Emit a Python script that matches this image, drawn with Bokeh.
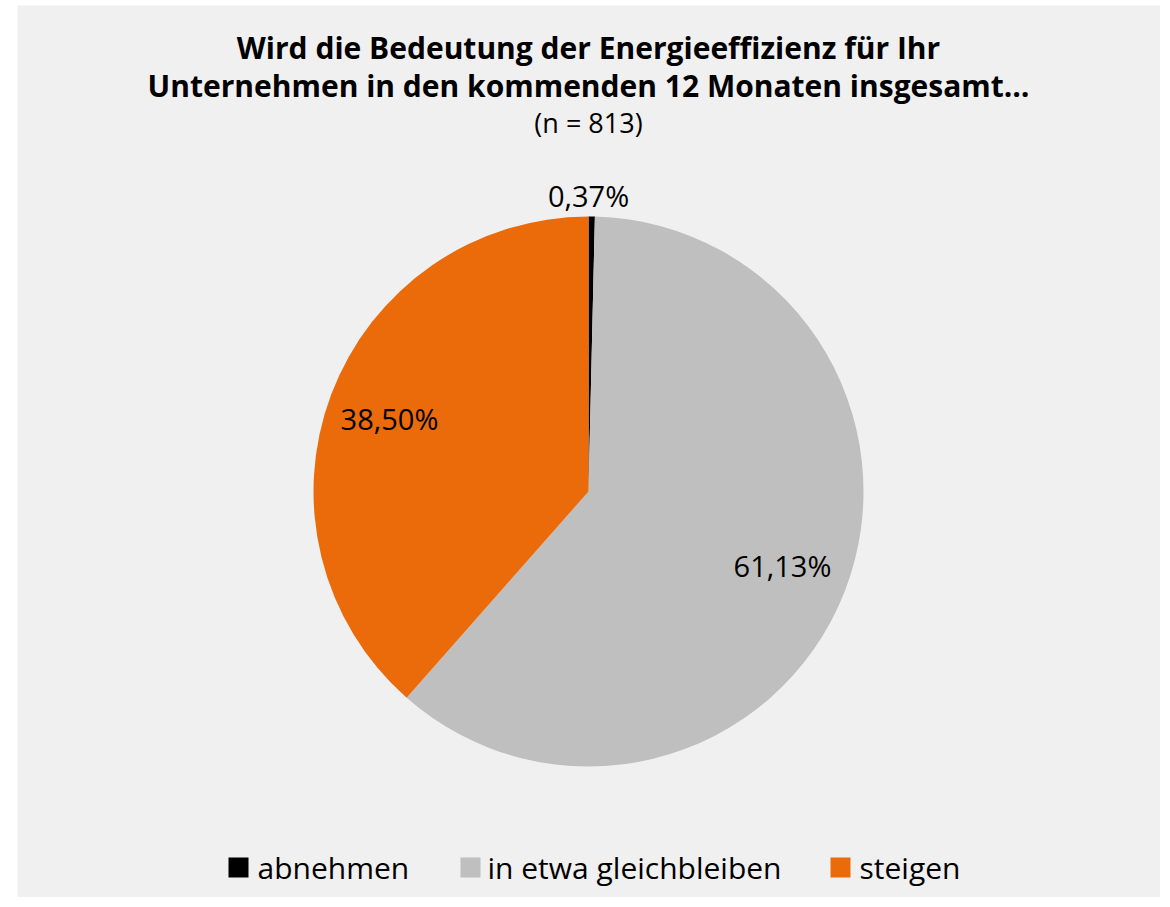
import math
from bokeh.plotting import figure
from bokeh.models import Range1d, ColumnDataSource
from bokeh.core.properties import value
from bokeh.embed import file_html
from bokeh.resources import INLINE

# ---- data ----
categories = ["abnehmen", "in etwa gleichbleiben", "steigen"]
shares = [0.37, 61.13, 38.50]
labels = ["0,37%", "61,13%", "38,50%"]
colors = ["#000000", "#BFBFBF", "#EB6A0A"]
title_lines = ["Wird die Bedeutung der Energieeffizienz für Ihr",
               "Unternehmen in den kommenden 12 Monaten insgesamt…"]
subtitle = "(n = 813)"

FONT = "Open Sans"

# coordinate system: x = page x, y = 897 - page y
p = figure(width=1160, height=897, output_backend="svg", toolbar_location=None,
           x_range=Range1d(17, 1160), y_range=Range1d(0, 892),
           min_border_left=17, min_border_right=0, min_border_top=5, min_border_bottom=0)
p.border_fill_color = "white"
p.background_fill_color = "#F0F0F0"
p.outline_line_color = None
p.axis.visible = False
p.grid.visible = False

def Y(py):
    return 897 - py

# pie
cx, cy, r = 588, Y(491), 275
total = sum(shares)
starts, ends = [], []
cum = 0.0
label_pos = [(588, Y(195)), (782, Y(565)), (389, Y(418))]
for s in shares:
    a0 = math.pi / 2 - cum / total * 2 * math.pi
    cum += s
    a1 = math.pi / 2 - cum / total * 2 * math.pi
    starts.append(a0)
    ends.append(a1)
src = ColumnDataSource(dict(start=starts, end=ends, color=colors, cat=categories))
p.wedge(x=cx, y=cy, radius=r, start_angle="start", end_angle="end", direction="clock",
        fill_color="color", line_color=None, source=src)

p.text(x=[q[0] for q in label_pos], y=[q[1] for q in label_pos], text=labels,
       text_font=value(FONT), text_font_size="29px", text_color="black",
       text_align="center", text_baseline="middle")

# title
p.text(x=[588, 588], y=[Y(47), Y(85)], text=title_lines, text_font=value(FONT),
       text_font_size="30px", text_font_style="bold", text_color="black",
       text_align="center", text_baseline="middle")
p.text(x=[588], y=[Y(122)], text=[subtitle], text_font=value(FONT),
       text_font_size="27px", text_color="black",
       text_align="center", text_baseline="middle")

# legend
sq_x = [238, 470, 840]
tx = [257, 487, 859]
ly = Y(867)
p.rect(x=sq_x, y=[ly] * 3, width=20, height=20, fill_color=colors, line_color=None)
p.text(x=tx, y=[ly] * 3, text=categories, text_font=value(FONT),
       text_font_size="30px", text_color="black",
       text_align="left", text_baseline="middle")

open("out.html", "w").write(file_html(p, INLINE))
